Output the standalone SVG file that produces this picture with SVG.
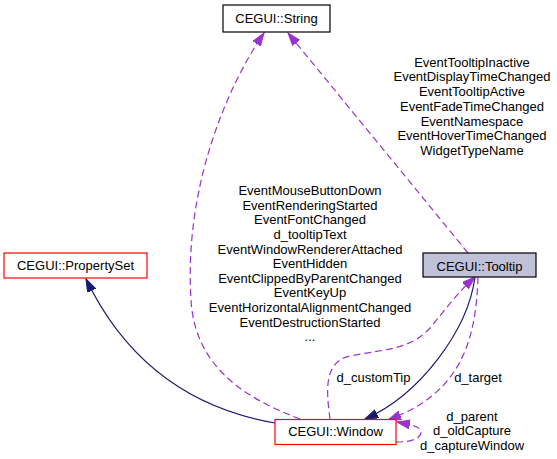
<svg xmlns="http://www.w3.org/2000/svg" width="557" height="459" viewBox="0 0 557 459">
<style>
text{font-family:"Liberation Sans",Arial,sans-serif;font-size:13px;fill:#000;text-anchor:middle}
.box{stroke-width:1.2}
.dep{fill:none;stroke:#9a32cd;stroke-width:1.2;stroke-dasharray:7,4}
.inh{fill:none;stroke:#191970;stroke-width:1.2}
</style>
<defs>
<marker id="ap" markerUnits="userSpaceOnUse" markerWidth="14" markerHeight="10" refX="13" refY="4.5" orient="auto"><path d="M0,0 L13,4.5 L0,9 z" fill="#9a32cd" stroke="#9a32cd" stroke-width="1"/></marker>
<marker id="an" markerUnits="userSpaceOnUse" markerWidth="14" markerHeight="10" refX="13" refY="4.5" orient="auto"><path d="M0,0 L13,4.5 L0,9 z" fill="#191970" stroke="#191970" stroke-width="1"/></marker>
</defs>
<rect width="557" height="459" fill="#fff"/>
<g id="connectors">
<path class="dep" d="M300,419 C250,400 195,370 191,300 C184,190 225,90 264,33" marker-end="url(#ap)"/>
<path class="dep" d="M468,253 L288,33" marker-end="url(#ap)"/>
<path class="inh" d="M275,423 C200,410 130,370 86,279" marker-end="url(#an)"/>
<path class="inh" d="M475,277 C468,330 420,395 365,419" marker-end="url(#an)"/>
<path class="dep" d="M330,419 C327,395 322,362 350,356 C385,349 410,350 430,328 C445,310 458,292 475,277" marker-end="url(#ap)"/>
<path class="dep" d="M478,277 C476,350 455,395 388,420" marker-end="url(#ap)"/>
<path class="dep" d="M396,442 C413,442 421,438 421,432 C421,427 413,425 397,422" marker-end="url(#ap)"/>
<g id="labels-window-string">
<text x="310" y="195">EventMouseButtonDown</text>
<text x="310" y="209.6">EventRenderingStarted</text>
<text x="310" y="224.3">EventFontChanged</text>
<text x="310" y="238.9">d_tooltipText</text>
<text x="310" y="253.5">EventWindowRendererAttached</text>
<text x="310" y="268.2">EventHidden</text>
<text x="310" y="282.8">EventClippedByParentChanged</text>
<text x="310" y="297.4">EventKeyUp</text>
<text x="310" y="312">EventHorizontalAlignmentChanged</text>
<text x="310" y="326.7">EventDestructionStarted</text>
<text x="310" y="341.3">...</text>
</g>
<g id="labels-tooltip-string">
<text x="472" y="66.7">EventTooltipInactive</text>
<text x="472" y="81.4">EventDisplayTimeChanged</text>
<text x="472" y="96.1">EventTooltipActive</text>
<text x="472" y="110.9">EventFadeTimeChanged</text>
<text x="472" y="125.6">EventNamespace</text>
<text x="472" y="140.3">EventHoverTimeChanged</text>
<text x="472" y="155">WidgetTypeName</text>
</g>
<text x="373.5" y="381.7">d_customTip</text>
<text x="478" y="381.7">d_target</text>
<text x="472" y="420.7">d_parent</text>
<text x="472" y="435.3">d_oldCapture</text>
<text x="472" y="449.5">d_captureWindow</text>
</g>
<g id="node-string">
<rect class="box" x="223" y="5" width="107" height="27" fill="#fff" stroke="#000"/>
<text x="276.5" y="23">CEGUI::String</text>
</g>
<g id="node-tooltip">
<rect class="box" x="423" y="253" width="113" height="24" fill="#c0c0d8" stroke="#000"/>
<text x="479.5" y="271">CEGUI::Tooltip</text>
</g>
<g id="node-propertyset">
<rect class="box" x="4" y="253" width="143" height="25" fill="#fff" stroke="#ff0000"/>
<text x="75.5" y="270">CEGUI::PropertySet</text>
</g>
<g id="node-window">
<rect class="box" x="275" y="419.5" width="121" height="25" fill="#fff" stroke="#ff0000"/>
<text x="335.5" y="436">CEGUI::Window</text>
</g>
</svg>
